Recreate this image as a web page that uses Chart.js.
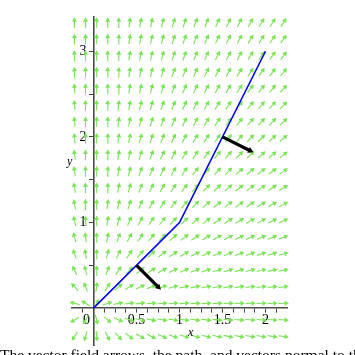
<!DOCTYPE html>
<html>
<head>
<meta charset="utf-8">
<script src="https://cdn.jsdelivr.net/npm/chart.js@4.4.1/dist/chart.umd.min.js"></script>
<style>
  html, body { margin: 0; padding: 0; background: #fff; }
  #wrap { position: relative; width: 355px; height: 355px; overflow: hidden; }
  #plot { position: absolute; left: 0; top: 0; }
  .lbl { position: absolute; font: italic 12px "Liberation Serif", serif; line-height: 12px; color: #000; }
  #caption { position: absolute; left: 0; top: 347px; width: 355px; white-space: nowrap; overflow: hidden;
             font: 15.5px "Liberation Serif", serif; line-height: 16px; color: #000; }
</style>
</head>
<body>
<div id="wrap">
  <canvas id="plot" width="355" height="355"></canvas>
  <span class="lbl" style="left:188px; top:326px;">x</span>
  <span class="lbl" style="left:67px; top:155px;">y</span>
  <div id="caption">The vector field arrows, the path, and vectors normal to the path</div>
</div>
<script>
// grid where the field arrows sit
const xGrid = [-0.22, -0.092, 0.036, 0.164, 0.292, 0.42, 0.548, 0.676, 0.804, 0.932,
               1.06, 1.188, 1.316, 1.444, 1.572, 1.70, 1.828, 1.956, 2.084, 2.212];
const yGrid = [-0.33, -0.137, 0.056, 0.249, 0.442, 0.635, 0.828, 1.021, 1.214, 1.407,
               1.60, 1.793, 1.986, 2.179, 2.372, 2.565, 2.758, 2.951, 3.144, 3.337];
// the field F(x, y) = (x, y), drawn with arrows of fixed length
const field = (x, y) => [x, y];

// path
const pathX = [0, 1, 2];
const pathY = [0, 1, 3];

// normal vectors: base point and vector
const normalX = [0.5, 1.5];
const normalY = [0.5, 2];
const normalU = [0.283, 0.358];
const normalV = [-0.283, -0.179];

// axis ticks
const xMajor = [0, 0.5, 1, 1.5, 2];
const xMajorLabels = ['0    ', '0.5', '1', '1.5', '2'];
const xMinor = [-0.125, 0.125, 0.25, 0.375, 0.625, 0.75, 0.875, 1.125, 1.25, 1.375, 1.625, 1.75, 1.875, 2.125];
const yMajor = [1, 2, 3];
const yMajorLabels = ['1  ', '2  ', '3  '];
const yMinor = [0.5, 1.5, 2.5];

const ARROW_LEN = 0.12;
const HEAD = 0.034;
const GREEN = 'rgb(122,228,86)';

function arrows(bx, by, ux, uy, len, head, centered) {
  const shaft = [], tips = [], rot = [];
  for (let i = 0; i < bx.length; i++) {
    const m = Math.hypot(ux[i], uy[i]) || 1;
    const dx = ux[i] / m, dy = uy[i] / m;
    const L = len == null ? m : len;
    const x0 = centered ? bx[i] - dx * L / 2 : bx[i];
    const y0 = centered ? by[i] - dy * L / 2 : by[i];
    const hx = x0 + dx * (L - head), hy = y0 + dy * (L - head);
    shaft.push({x: x0, y: y0}, {x: hx, y: hy}, {x: hx, y: null});
    tips.push({x: hx, y: hy});
    rot.push(Math.atan2(dx, dy) * 180 / Math.PI);
  }
  return {shaft, tips, rot};
}

const fx = [], fy = [], fu = [], fv = [];
yGrid.forEach(y => xGrid.forEach(x => {
  const [u, v] = field(x, y);
  fx.push(x); fy.push(y); fu.push(u); fv.push(v);
}));
const fieldArrows = arrows(fx, fy, fu, fv, ARROW_LEN, HEAD, true);
const normalArrows = arrows(normalX, normalY, normalU, normalV, null, 0.04, false);

const xTickVals = xMinor.concat(xMajor).sort((a, b) => a - b);
const yTickVals = yMinor.concat(yMajor).sort((a, b) => a - b);
const tickFont = {family: '"Liberation Serif", serif', size: 14};

new Chart(document.getElementById('plot'), {
  type: 'scatter',
  data: {
    datasets: [
      {data: normalArrows.tips, pointStyle: 'triangle', pointRotation: normalArrows.rot, pointRadius: 3.6,
       backgroundColor: '#000', borderWidth: 0, showLine: false},
      {data: normalArrows.shaft, showLine: true, borderColor: '#000', borderWidth: 3.2, pointRadius: 0, spanGaps: false},
      {data: pathX.map((x, i) => ({x, y: pathY[i]})), showLine: true, borderColor: '#0000ff', borderWidth: 1.6, pointRadius: 0},
      {data: fieldArrows.tips, pointStyle: 'triangle', pointRotation: fieldArrows.rot, pointRadius: 2.9,
       backgroundColor: GREEN, borderWidth: 0, showLine: false, clip: 6},
      {data: fieldArrows.shaft, showLine: true, borderColor: GREEN, borderWidth: 1.1, pointRadius: 0, spanGaps: false, clip: 6}
    ]
  },
  options: {
    responsive: false,
    animation: false,
    events: [],
    layout: {padding: {left: 72, right: 68, top: 17, bottom: 10}},
    plugins: {legend: {display: false}, tooltip: {enabled: false}},
    scales: {
      x: {
        type: 'linear', min: -0.25, max: 2.25, position: {y: 0},
        afterBuildTicks: s => { s.ticks = xTickVals.map(v => ({value: v})); },
        afterFit: s => { s.height = 0; },
        grid: {drawOnChartArea: false, drawTicks: true, tickLength: 4, tickColor: '#444', tickWidth: 1},
        border: {display: true, color: '#4a4a4a', width: 1.6},
        ticks: {autoSkip: false, maxRotation: 0, padding: 0, color: '#000', font: tickFont,
                callback: v => { const i = xMajor.indexOf(v); return i < 0 ? '' : xMajorLabels[i]; }}
      },
      y: {
        type: 'linear', min: -0.43, max: 3.4, position: {x: 0},
        afterBuildTicks: s => { s.ticks = yTickVals.map(v => ({value: v})); },
        afterFit: s => { s.width = 0; },
        grid: {drawOnChartArea: false, drawTicks: true, tickLength: 4, tickColor: '#444', tickWidth: 1},
        border: {display: true, color: '#4a4a4a', width: 1.6},
        ticks: {autoSkip: false, padding: 0, color: '#000', font: tickFont,
                callback: v => { const i = yMajor.indexOf(v); return i < 0 ? '' : yMajorLabels[i]; }}
      }
    }
  }
});
</script>
</body>
</html>
